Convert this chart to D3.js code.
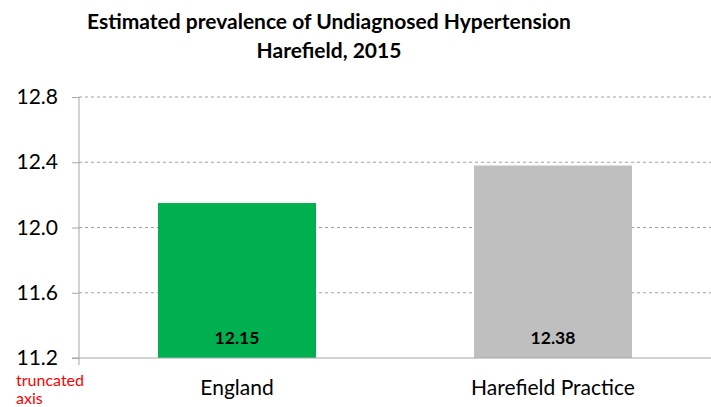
<!DOCTYPE html>
<html><head><meta charset="utf-8">
<script src="https://cdn.jsdelivr.net/npm/d3@7"></script>
<style>body{margin:0;background:#fff}svg{display:block}</style>
</head><body>
<script>
const categories = ["England", "Harefield Practice"];
const values = [12.15, 12.38];
const barColors = ["#00b050", "#bfbfbf"];
const yTicks = [11.2, 11.6, 12.0, 12.4, 12.8];
const titleLines = ["Estimated prevalence of Undiagnosed Hypertension", "Harefield, 2015"];
const noteLines = ["truncated", "axis"];

const W = 711, H = 407;
const svg = d3.select("body").append("svg").attr("width", W).attr("height", H);
const font = "Lato, 'Open Sans', sans-serif";
const x0 = 79, x1 = 711, yTop = 97, yBot = 358;

const x = d3.scaleBand().domain(categories).range([x0, x1]).paddingInner(0.5).paddingOuter(0.25);
const y = d3.scaleLinear().domain([11.2, 12.8]).range([yBot, yTop]);

// gridlines
svg.append("g").selectAll("line").data(yTicks.filter(t => t > 11.2)).join("line")
  .attr("x1", x0).attr("x2", x1).attr("y1", d => y(d)).attr("y2", d => y(d))
  .attr("stroke", "#a0a0a0").attr("stroke-dasharray", "3,3").attr("stroke-width", 1);

// bars
svg.append("g").selectAll("rect").data(categories).join("rect")
  .attr("x", d => x(d)).attr("width", x.bandwidth())
  .attr("y", (d, i) => y(values[i])).attr("height", (d, i) => yBot - y(values[i]))
  .attr("fill", (d, i) => barColors[i]);

// y axis
const yAxis = d3.axisLeft(y).tickValues(yTicks).tickFormat(d3.format(".1f")).tickSize(7).tickPadding(14);
const ga = svg.append("g").attr("transform", `translate(${x0},0)`).call(yAxis);
ga.select(".domain").attr("stroke", "#a6a6a6").attr("d", `M0,${yTop}V${yBot + 7}`);
ga.selectAll(".tick line").attr("stroke", "#a6a6a6");
ga.selectAll(".tick text").attr("font-family", font).attr("font-size", 21).attr("fill", "#000");

// x baseline
svg.append("line").attr("x1", x0 - 7).attr("x2", x1).attr("y1", yBot).attr("y2", yBot)
  .attr("stroke", "#a6a6a6").attr("stroke-width", 1);

// category labels
svg.append("g").selectAll("text").data(categories).join("text")
  .attr("x", d => x(d) + x.bandwidth() / 2).attr("y", 395)
  .attr("text-anchor", "middle").attr("font-family", font).attr("font-size", 21).attr("fill", "#000")
  .text(d => d);

// value labels
svg.append("g").selectAll("text").data(categories).join("text")
  .attr("x", d => x(d) + x.bandwidth() / 2).attr("y", 344)
  .attr("text-anchor", "middle").attr("font-family", font).attr("font-weight", "bold")
  .attr("font-size", 17.5).attr("fill", "#000")
  .text((d, i) => values[i].toFixed(2));

// title
svg.append("g").selectAll("text").data(titleLines).join("text")
  .attr("x", 329).attr("y", (d, i) => 29 + i * 29)
  .attr("text-anchor", "middle").attr("font-family", font).attr("font-weight", "bold")
  .attr("font-size", 21).attr("fill", "#000").text(d => d);

// note
svg.append("g").selectAll("text").data(noteLines).join("text")
  .attr("x", 16).attr("y", (d, i) => 386 + i * 18)
  .attr("font-family", font).attr("font-size", 16).attr("fill", "#ff0000").text(d => d);
</script>
</body></html>
